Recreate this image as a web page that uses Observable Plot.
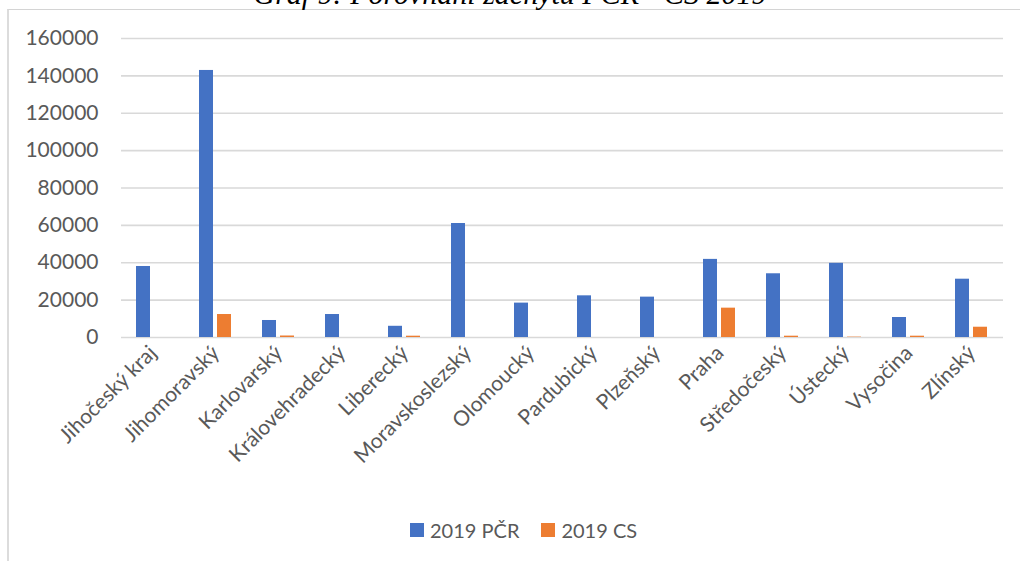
<!DOCTYPE html>
<html>
<head>
<meta charset="utf-8">
<script src="https://cdn.jsdelivr.net/npm/d3@7"></script>
<script src="https://cdn.jsdelivr.net/npm/@observablehq/plot@0.6"></script>
<style>
  html, body { margin: 0; padding: 0; background: #fff; }
  #page { position: relative; width: 1020px; height: 561px; overflow: hidden; background: #fff; }
  #frame { position: absolute; left: 7px; top: 9px; width: 1100px; height: 700px;
           border-left: 2px solid #dcdcdc; border-top: 1px solid #d4d4d4; }
  #title { position: absolute; left: 0; width: 1020px; top: -21px; text-align: center;
           font-family: "Liberation Serif", serif; font-style: italic; font-size: 30px; line-height: 30px; color: #000; }
  #chart { position: absolute; left: 0; top: 0; }
  #legend { position: absolute; left: 410px; top: 518px; display: flex; align-items: center;
            font-family: Lato, sans-serif; font-size: 20px; color: #595959; }
  .sw { width: 14px; height: 14px; display: inline-block; margin-right: 6px; }
  .item { display: flex; align-items: center; margin-right: 22px; }
</style>
</head>
<body>
<div id="page">
  <div id="frame"></div>
  <div id="title">Graf 9: Porovnání záchytu PČR - CS 2019</div>
  <div id="chart"></div>
  <div id="legend"></div>
</div>
<script>
const regions = ["Jihočeský kraj","Jihomoravský","Karlovarský","Královehradecký","Liberecký","Moravskoslezský","Olomoucký","Pardubický","Plzeňský","Praha","Středočeský","Ústecký","Vysočina","Zlínský"];
const pcr2019 = [38000,142900,9100,12300,6000,61000,18400,22300,21600,41800,34100,39700,10700,31200];
const cs2019 = [0,12300,800,0,700,0,0,0,0,15700,700,200,700,5500];
const seriesNames = ["2019 PČR","2019 CS"];
const seriesColors = ["#4472C4","#ED7D31"];
const yTicks = [0,20000,40000,60000,80000,100000,120000,140000,160000];

const data = regions.flatMap((r, i) => [
  {region: r, series: seriesNames[0], value: pcr2019[i]},
  {region: r, series: seriesNames[1], value: cs2019[i]}
]);

const chart = Plot.plot({
  width: 1020, height: 480,
  marginLeft: 121, marginRight: 17, marginTop: 38, marginBottom: 143,
  style: {fontFamily: "Lato, sans-serif", color: "#595959", background: "transparent", overflow: "visible"},
  fx: {domain: regions, padding: 0, label: null},
  x: {domain: seriesNames, paddingInner: 0.222, paddingOuter: 0.861, axis: null},
  y: {domain: [0, 160000], axis: null},
  color: {domain: seriesNames, range: seriesColors},
  marks: [
    Plot.ruleY(yTicks, {stroke: "#d9d9d9", strokeWidth: 1.6}),
    Plot.barY(data, {fx: "region", x: "series", y: "value", fill: "series"}),
    Plot.axisY({ticks: yTicks, tickSize: 0, tickPadding: 23, tickFormat: d3.format("d"), fontSize: 21, fill: "#595959", label: null}),
    Plot.axisFx({anchor: "bottom", tickRotate: -45, tickSize: 0, tickPadding: 12, fontSize: 21, fill: "#595959", label: null})
  ]
});
document.getElementById("chart").appendChild(chart);

const legend = document.getElementById("legend");
seriesNames.forEach((name, i) => {
  const item = document.createElement("div");
  item.className = "item";
  const sw = document.createElement("span");
  sw.className = "sw";
  sw.style.background = seriesColors[i];
  const t = document.createElement("span");
  t.textContent = name;
  item.appendChild(sw);
  item.appendChild(t);
  legend.appendChild(item);
});
</script>
</body>
</html>
